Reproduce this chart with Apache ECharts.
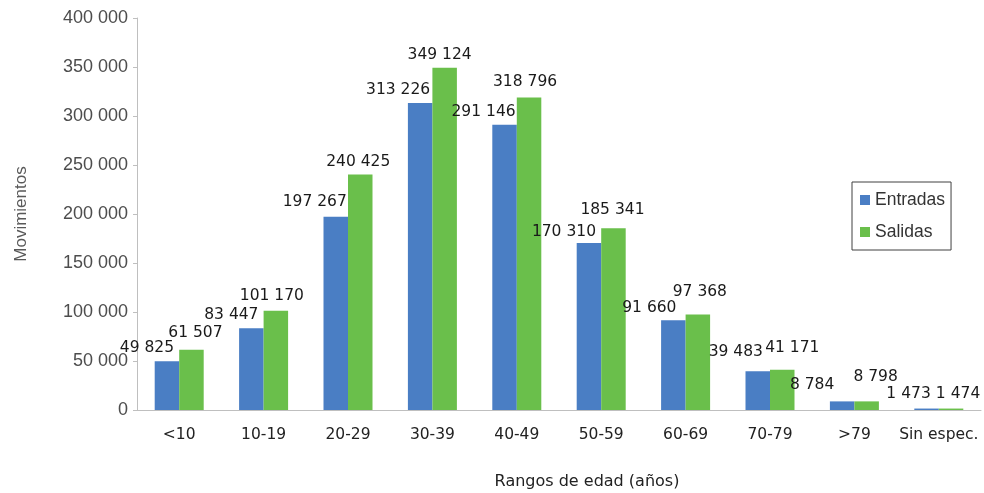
<!DOCTYPE html>
<html>
<head>
<meta charset="utf-8">
<script src="https://cdn.jsdelivr.net/npm/echarts@6/dist/echarts.min.js"></script>
<style>
  html, body { margin: 0; padding: 0; background: #fff; }
  #main { width: 984px; height: 493px; }
</style>
</head>
<body>
<div id="main"></div>
<script>
// datos
var categorias = ['<10', '10-19', '20-29', '30-39', '40-49', '50-59', '60-69', '70-79', '>79', 'Sin espec.'];
var entradas = [49825, 83447, 197267, 313226, 291146, 170310, 91660, 39483, 8784, 1473];
var salidas = [61507, 101170, 240425, 349124, 318796, 185341, 97368, 41171, 8798, 1474];

// desplazamiento de las etiquetas (colocadas a mano en el original)
var offsetEntradas = [[-20, 0], [-20, 0], [-21, -2], [-22, 0], [-21, 0], [-25, 2], [-24, 1], [-22, -6], [-30, -3], [-18, -2]];
var offsetSalidas = [[4, -4], [-4, -2], [-2, 1], [-5, 0], [-4, -3], [-1, -5], [2, -10], [10, -9], [9, -11], [7, -2]];

function fmt(v) {
  return String(v).replace(/\B(?=(\d{3})+(?!\d))/g, ' ');
}

function conEtiquetas(valores, offsets) {
  return valores.map(function (v, i) {
    return { value: v, label: { offset: offsets[i] } };
  });
}

var chart = echarts.init(document.getElementById('main'));

var etiqueta = {
  show: true,
  position: 'top',
  distance: 5,
  fontFamily: 'DejaVu Sans',
  fontSize: 15.5,
  color: '#1a1a1a',
  formatter: function (p) { return fmt(p.value); }
};

var option = {
  animation: false,
  backgroundColor: '#fff',
  color: ['#4a7ec4', '#6abf4b'],
  grid: { left: 137, right: 3, top: 18, bottom: 83, containLabel: false, outerBoundsMode: 'none' },
  legend: {
    orient: 'vertical',
    left: 852,
    top: 182,
    itemWidth: 10,
    itemHeight: 10,
    itemGap: 14,
    padding: [9, 6, 9, 8],
    borderColor: '#404040',
    borderWidth: 1,
    textStyle: { fontFamily: 'Liberation Sans', fontSize: 17.5, color: '#333' },
    data: [
      { name: 'Entradas', icon: 'rect' },
      { name: 'Salidas', icon: 'rect' }
    ]
  },
  xAxis: {
    type: 'category',
    data: categorias,
    name: 'Rangos de edad (años)',
    nameLocation: 'middle',
    nameGap: 64,
    nameTextStyle: { fontFamily: 'DejaVu Sans', fontSize: 16, color: '#222', padding: [0, 0, 0, 56] },
    axisLine: { lineStyle: { color: '#bfbfbf' } },
    axisTick: { show: false },
    axisLabel: { interval: 0, fontFamily: 'DejaVu Sans', fontSize: 15.5, color: '#222', margin: 17 }
  },
  yAxis: {
    type: 'value',
    min: 0,
    max: 400000,
    interval: 50000,
    name: 'Movimientos',
    nameLocation: 'middle',
    nameGap: 107,
    nameRotate: 90,
    nameTextStyle: { fontFamily: 'Liberation Sans', fontSize: 17, color: '#595959' },
    axisLine: { show: true, lineStyle: { color: '#bfbfbf' } },
    axisTick: { show: true, length: 4, lineStyle: { color: '#bfbfbf' } },
    splitLine: { show: false },
    axisLabel: {
      fontFamily: 'Liberation Sans',
      fontSize: 18,
      color: '#4d4d4d',
      margin: 9,
      formatter: function (v) { return fmt(v); }
    }
  },
  series: [
    {
      name: 'Entradas',
      type: 'bar',
      barWidth: 24.5,
      barGap: '0%',
      data: conEtiquetas(entradas, offsetEntradas),
      label: etiqueta
    },
    {
      name: 'Salidas',
      type: 'bar',
      barWidth: 24.5,
      barGap: '0%',
      data: conEtiquetas(salidas, offsetSalidas),
      label: etiqueta
    }
  ]
};

chart.setOption(option);
</script>
</body>
</html>
